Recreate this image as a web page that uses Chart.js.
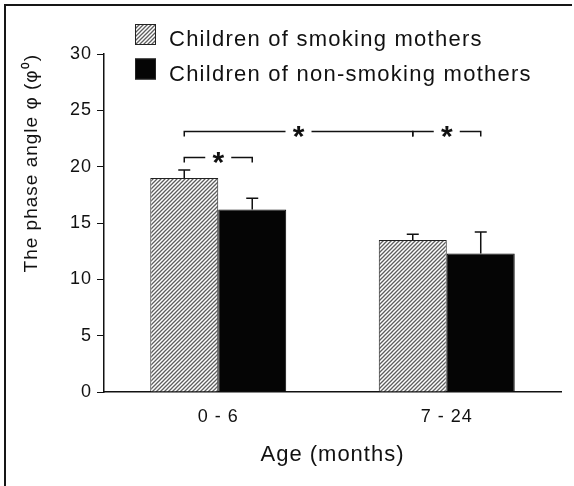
<!DOCTYPE html>
<html>
<head>
<meta charset="utf-8">
<script src="https://cdn.jsdelivr.net/npm/chart.js@4.4.1/dist/chart.umd.min.js"></script>
<style>
  html, body { margin: 0; padding: 0; background: #fff; }
  canvas { display: block; }
</style>
</head>
<body>
<canvas id="chart" width="574" height="486"></canvas>
<script>
// Age groups on the x axis
const categories = ['0 - 6', '7 - 24'];
// Mean phase angle and SD (upper whisker) per group
const smokingMeans = [19.0, 13.5];
const smokingErrors = [0.7, 0.5];
const nonSmokingMeans = [16.2, 12.3];
const nonSmokingErrors = [1.0, 1.9];
const seriesLabels = ['Children of smoking mothers', 'Children of non-smoking mothers'];
// y axis range and tick step
const yMin = 0, yMax = 30, yStep = 5;
// Significance brackets: [dataset, category] endpoints and height in axis units
const brackets = [
  { from: [0, 0], to: [1, 0], level: 20.9 },
  { from: [0, 0], to: [0, 1], level: 23.2 },
  { from: [0, 1], to: [1, 1], level: 23.2 }
];

const FONT = '"Liberation Sans", Arial, sans-serif';
const INK = '#111';

// Diagonal hatch fill used for the smoking-mothers series
function makeHatch() {
  const c = document.createElement('canvas');
  c.width = 4; c.height = 4;
  const g = c.getContext('2d');
  g.fillStyle = '#fff';
  g.fillRect(0, 0, 4, 4);
  g.strokeStyle = '#5e5e5e';
  g.lineWidth = 1.3;
  g.beginPath();
  g.moveTo(0, 4); g.lineTo(4, 0);
  g.moveTo(-1, 1); g.lineTo(1, -1);
  g.moveTo(3, 5); g.lineTo(5, 3);
  g.stroke();
  return g.createPattern(c, 'repeat');
}
const hatch = makeHatch();
const errors = [smokingErrors, nonSmokingErrors];

const spacingPlugin = {
  id: 'spacing',
  beforeUpdate(chart) { chart.ctx.letterSpacing = '1px'; },
  beforeDraw(chart) {
    const ctx = chart.ctx;
    ctx.save();
    ctx.fillStyle = '#fff';
    ctx.fillRect(0, 0, chart.width, chart.height);
    ctx.restore();
    ctx.letterSpacing = '1px';
  }
};

const errorBarPlugin = {
  id: 'errorBars',
  afterDatasetsDraw(chart) {
    const ctx = chart.ctx;
    const y = chart.scales.y;
    ctx.save();
    ctx.strokeStyle = INK;
    ctx.lineWidth = 1.5;
    chart.data.datasets.forEach((ds, i) => {
      const meta = chart.getDatasetMeta(i);
      meta.data.forEach((bar, j) => {
        const top = y.getPixelForValue(ds.data[j] + errors[i][j]);
        ctx.beginPath();
        ctx.moveTo(bar.x, bar.y);
        ctx.lineTo(bar.x, top);
        ctx.moveTo(bar.x - 6, top);
        ctx.lineTo(bar.x + 6, top);
        ctx.stroke();
      });
    });
    ctx.restore();
  }
};

const bracketPlugin = {
  id: 'brackets',
  afterDatasetsDraw(chart) {
    const ctx = chart.ctx;
    const y = chart.scales.y;
    ctx.save();
    ctx.strokeStyle = INK;
    ctx.fillStyle = INK;
    ctx.lineWidth = 1.5;
    ctx.font = 'bold 30px ' + FONT;
    ctx.letterSpacing = '0px';
    const m = ctx.measureText('*');
    brackets.forEach(b => {
      const x1 = chart.getDatasetMeta(b.from[0]).data[b.from[1]].x;
      const x2 = chart.getDatasetMeta(b.to[0]).data[b.to[1]].x;
      const py = Math.round(y.getPixelForValue(b.level)) + 0.5;
      const tick = 5;
      const mid = (x1 + x2) / 2;
      const gap = 13;
      ctx.beginPath();
      ctx.moveTo(x1, py + tick); ctx.lineTo(x1, py); ctx.lineTo(mid - gap, py);
      ctx.moveTo(mid + gap, py); ctx.lineTo(x2, py); ctx.lineTo(x2, py + tick);
      ctx.stroke();
      ctx.textAlign = 'center';
      ctx.textBaseline = 'alphabetic';
      const base = py - (m.actualBoundingBoxDescent - m.actualBoundingBoxAscent) / 2;
      ctx.fillText('*', mid, base);
    });
    ctx.restore();
  }
};

const legendPlugin = {
  id: 'boxLegend',
  afterDraw(chart) {
    const ctx = chart.ctx;
    ctx.save();
    ctx.font = '22px ' + FONT;
    ctx.letterSpacing = '1.25px';
    ctx.textBaseline = 'alphabetic';
    ctx.textAlign = 'left';
    const rows = [24, 58.5];
    chart.data.datasets.forEach((ds, i) => {
      const top = rows[i];
      ctx.fillStyle = ds.backgroundColor;
      ctx.fillRect(135, top, 21, 21);
      ctx.strokeStyle = '#222';
      ctx.lineWidth = 1;
      ctx.strokeRect(135.5, top + 0.5, 20, 20);
      ctx.fillStyle = INK;
      ctx.fillText(ds.label, 169, top + 22);
    });
    ctx.restore();
  }
};

const framePlugin = {
  id: 'frame',
  afterDraw(chart) {
    const ctx = chart.ctx;
    ctx.save();
    ctx.fillStyle = '#161616';
    ctx.fillRect(4, 4, 568, 2);
    ctx.fillRect(4, 4, 2, chart.height - 4);
    ctx.restore();
  }
};

new Chart(document.getElementById('chart'), {
  type: 'bar',
  data: {
    labels: categories,
    datasets: [
      {
        label: seriesLabels[0],
        data: smokingMeans,
        backgroundColor: hatch,
        borderColor: '#222',
        borderWidth: 1
      },
      {
        label: seriesLabels[1],
        data: nonSmokingMeans,
        backgroundColor: '#050505',
        borderColor: '#050505',
        borderWidth: 1
      }
    ]
  },
  options: {
    responsive: false,
    animation: false,
    devicePixelRatio: 1,
    layout: { padding: { left: 5, right: 13, top: 54, bottom: 0 } },
    datasets: { bar: { categoryPercentage: 0.595, barPercentage: 1.0 } },
    plugins: {
      legend: { display: false },
      tooltip: { enabled: false }
    },
    scales: {
      x: {
        grid: { display: false, drawTicks: false },
        border: { display: true, color: INK, width: 1.5 },
        ticks: { color: INK, font: { family: FONT, size: 18 }, padding: 14 },
        title: {
          display: true,
          text: 'Age (months)',
          color: INK,
          font: { family: FONT, size: 22 },
          padding: { top: 0, bottom: 18 }
        },
        afterFit(scale) { scale.height = 94; }
      },
      y: {
        min: yMin,
        max: yMax,
        grid: { drawOnChartArea: false, drawTicks: true, tickLength: 7, color: INK, lineWidth: 1 },
        border: { display: true, color: INK, width: 1.5 },
        ticks: { stepSize: yStep, color: INK, font: { family: FONT, size: 18 }, padding: 5 },
        title: {
          display: true,
          text: 'The phase angle φ (φ⁰)',
          align: 'end',
          color: INK,
          font: { family: FONT, size: 19 },
          padding: { top: 15, bottom: 0 }
        },
        afterFit(scale) { scale.width = 99; }
      }
    }
  },
  plugins: [spacingPlugin, errorBarPlugin, bracketPlugin, legendPlugin, framePlugin]
});
</script>
</body>
</html>
